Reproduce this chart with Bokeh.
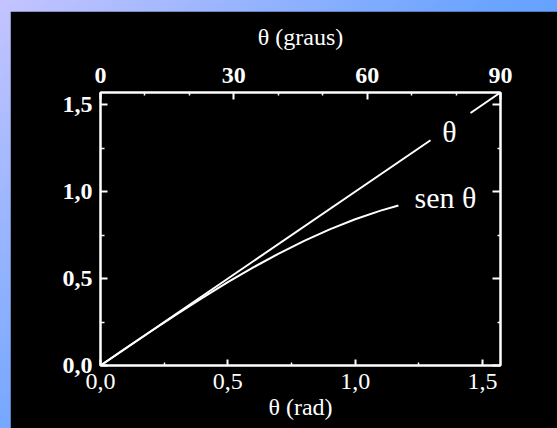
from bokeh.plotting import figure
from bokeh.layouts import column
from bokeh.models import LinearAxis, Range1d, FixedTicker
from bokeh.core.properties import value
from bokeh.embed import file_html
from bokeh.resources import INLINE

# --- data -------------------------------------------------------------
HALF_PI = 1.5708

# straight line y = theta, broken around its label
theta_seg1 = [0.0, 1.296]
theta_seg2 = [1.453, 1.5708]

# sen(theta) sampled in radians
sen_x = [0.0, 0.1, 0.2, 0.3, 0.4, 0.5, 0.6, 0.7, 0.8, 0.9, 1.0, 1.1, 1.17]
sen_y = [0.0, 0.0998, 0.1987, 0.2955, 0.3894, 0.4794, 0.5646, 0.6442,
         0.7174, 0.7833, 0.8415, 0.8912, 0.9208]

rad_ticks = [0.0, 0.5, 1.0, 1.5]
rad_minor = [0.25, 0.75, 1.25]
rad_labels = ["0,0", "0,5", "1,0", "1,5"]

deg_ticks = [0, 30, 60, 90]
deg_minor = [10, 20, 40, 50, 70, 80]
deg_labels = ["0", "30", "60", "90"]

SERIF = "Liberation Serif"
TICK_FONT = "24px"
TITLE_FONT = "24px"
CURVE_FONT = "30px"

# --- figure -----------------------------------------------------------
p = figure(
    width=547, height=417,
    x_range=Range1d(0, HALF_PI), y_range=Range1d(0, HALF_PI),
    output_backend="svg", toolbar_location=None,
    x_axis_location=None, y_axis_location=None,
    min_border_left=90, min_border_right=57,
    min_border_top=81, min_border_bottom=63,
    background_fill_color="black", border_fill_color="black",
    outline_line_color="white", outline_line_width=2,
    margin=(11, 0, 0, 10),
)
p.grid.visible = False
p.extra_x_ranges = {"deg": Range1d(0, 90)}


def style_axis(ax, major_in, minor_in):
    ax.axis_line_color = "white"
    ax.axis_line_width = 2
    ax.major_tick_line_color = "white"
    ax.major_tick_line_width = 2
    ax.minor_tick_line_color = "white"
    ax.minor_tick_line_width = 1.5
    ax.major_tick_in = major_in
    ax.major_tick_out = 0
    ax.minor_tick_in = minor_in
    ax.minor_tick_out = 0
    ax.major_label_text_color = "white"
    ax.major_label_text_font = SERIF
    ax.major_label_text_font_size = TICK_FONT
    ax.axis_label_text_color = "white"
    ax.axis_label_text_font = SERIF
    ax.axis_label_text_font_size = TITLE_FONT
    ax.axis_label_text_font_style = "normal"


rad_over = {t: l for t, l in zip(rad_ticks, rad_labels)}
deg_over = {t: l for t, l in zip(deg_ticks, deg_labels)}

# bottom: radians
bottom = LinearAxis(ticker=FixedTicker(ticks=rad_ticks, minor_ticks=rad_minor),
                    axis_label="θ (rad)")
style_axis(bottom, 6, 3)
bottom.major_label_overrides = rad_over
bottom.major_label_standoff = 8
bottom.axis_label_standoff = 2
p.add_layout(bottom, "below")

# top: degrees
top = LinearAxis(x_range_name="deg",
                 ticker=FixedTicker(ticks=deg_ticks, minor_ticks=deg_minor),
                 axis_label="θ (graus)")
style_axis(top, 7, 3)
top.major_label_overrides = deg_over
top.major_label_text_font_style = "bold"
top.major_label_standoff = 10
top.axis_label_standoff = 15
p.add_layout(top, "above")

# left: radians, bold labels
left = LinearAxis(ticker=FixedTicker(ticks=rad_ticks, minor_ticks=rad_minor))
style_axis(left, 7, 4)
left.major_label_overrides = rad_over
left.major_label_text_font_style = "bold"
left.major_label_standoff = 8
p.add_layout(left, "left")

# right: ticks only, no labels
right = LinearAxis(ticker=FixedTicker(ticks=rad_ticks, minor_ticks=rad_minor))
style_axis(right, 8, 3)
right.major_label_text_color = None
p.add_layout(right, "right")

# --- curves -----------------------------------------------------------
p.line(theta_seg1, theta_seg1, line_color="white", line_width=2)
p.line(theta_seg2, theta_seg2, line_color="white", line_width=2)
p.line(sen_x, sen_y, line_color="white", line_width=2)

p.text(x=[1.3705], y=[1.3464], text=["θ"], text_color="white",
       text_font=value(SERIF), text_font_size=CURVE_FONT,
       text_align="center", text_baseline="middle")
p.text(x=[1.3548], y=[0.9667], text=["sen θ"], text_color="white",
       text_font=value(SERIF), text_font_size=CURVE_FONT,
       text_align="center", text_baseline="middle")

page = column(p, width=557, height=428,
              styles={"background": "linear-gradient(135deg, #c4c4ff 0%, #6aa4ff 50%, #4a9cff 100%)"})

open("out.html", "w").write(file_html(page, INLINE))
